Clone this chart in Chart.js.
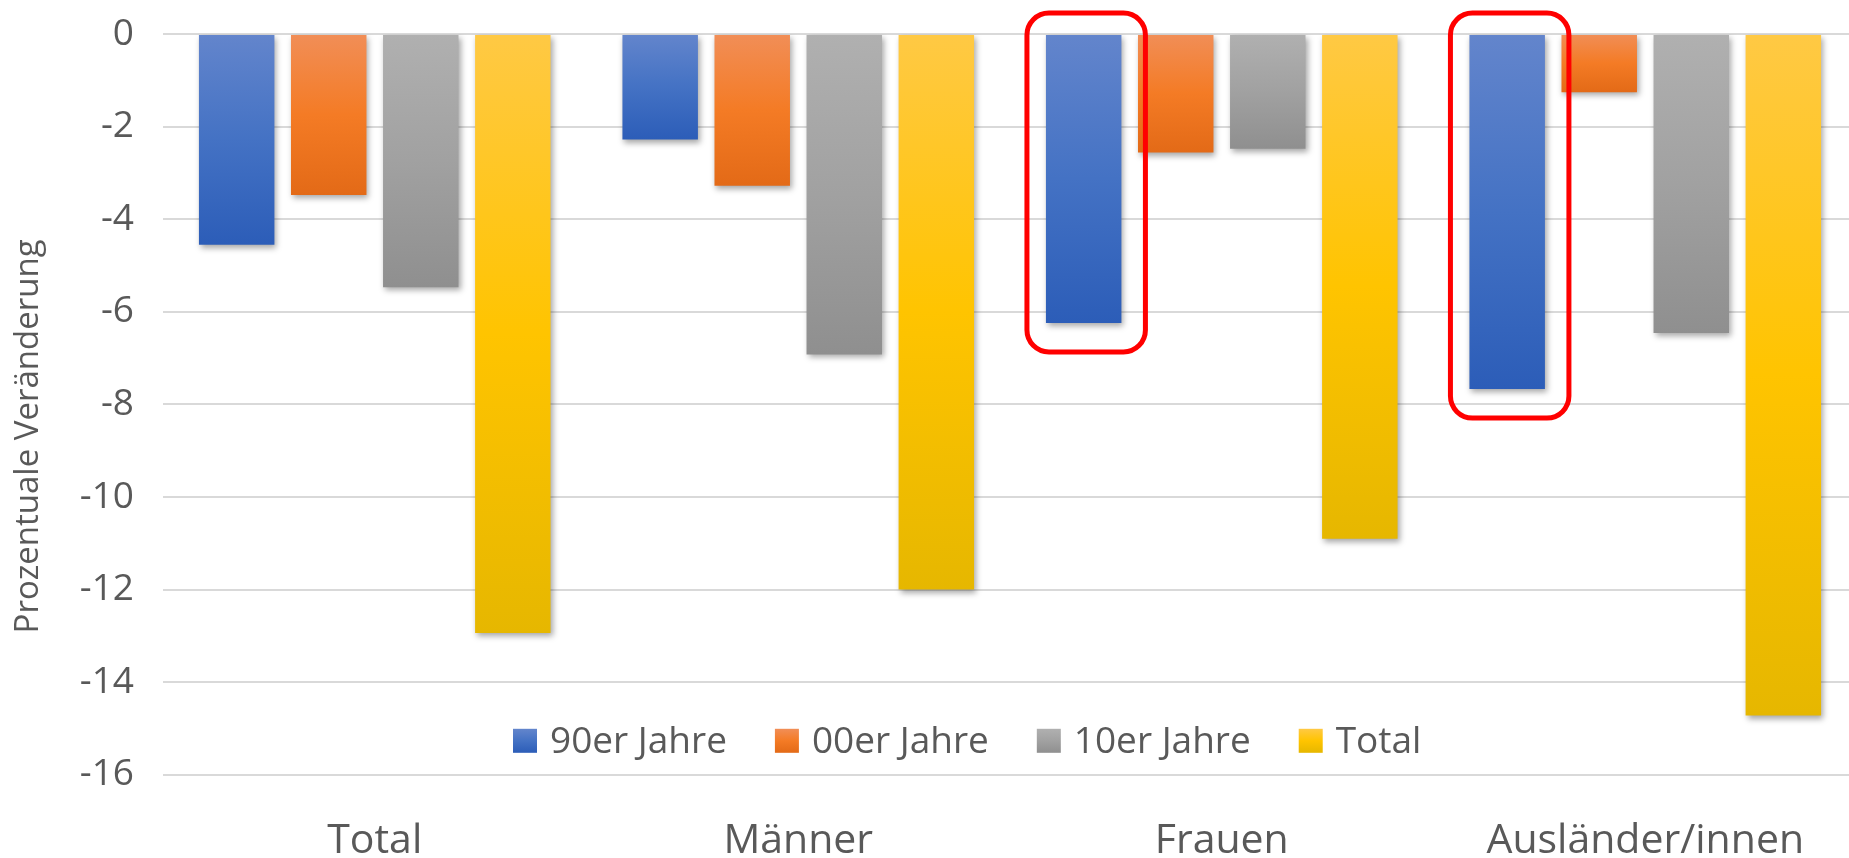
<!DOCTYPE html>
<html lang="de">
<head>
    <meta charset="UTF-8">
    <title>Prozentuale Veränderung</title>
    <style>
        html, body { margin: 0; padding: 0; background: #fff; overflow: hidden; }
        .chart-box { width: 1857px; height: 858px; position: relative; }
    </style>
    <script src="https://cdn.jsdelivr.net/npm/chart.js@4.4.1/dist/chart.umd.min.js"></script>
</head>
<body>
    <div class="chart-box"><canvas id="grafica"></canvas></div>
    <script>
        // data
        const labelsBar = ['Total', 'Männer', 'Frauen', 'Ausländer/innen'];
        const seriesNames = ['90er Jahre', '00er Jahre', '10er Jahre', 'Total'];
        const data90er = [-4.55, -2.28, -6.24, -7.67];
        const data00er = [-3.48, -3.28, -2.56, -1.26];
        const data10er = [-5.47, -6.92, -2.48, -6.46];
        const dataTotal = [-12.94, -12.0, -10.9, -14.72];
        const yTicks = [0, -2, -4, -6, -8, -10, -12, -14, -16];
        const yTitle = 'Prozentuale Veränderung';
        const highlighted = [2, 3]; // 90er bars boxed in red

        // gradient stops per series (top, middle, bottom)
        const gradients = [
            ['#6385CC', '#4472C4', '#2C5DB8'],
            ['#F18E57', '#F47B25', '#E36A17'],
            ['#B0B0B0', '#A1A1A1', '#8F8F8F'],
            ['#FFC944', '#FFC400', '#E6B700']
        ];
        const textColor = '#595959';
        const fontFamily = '"Open Sans", "Noto Sans", sans-serif';

        function fillGradient(ctx, y0, y1, stops) {
            const g = ctx.createLinearGradient(0, y0, 0, y1);
            g.addColorStop(0, stops[0]);
            g.addColorStop(0.5, stops[1]);
            g.addColorStop(1, stops[2]);
            return g;
        }

        function barColor(i) {
            return (context) => {
                const chart = context.chart;
                const y = chart.scales.y;
                if (context.type !== 'data' || !y) return gradients[i][1];
                const top = y.getPixelForValue(0);
                const bottom = y.getPixelForValue(context.raw);
                if (!isFinite(top) || !isFinite(bottom) || top === bottom) return gradients[i][1];
                return fillGradient(chart.ctx, top, bottom, gradients[i]);
            };
        }

        const seriesData = [data90er, data00er, data10er, dataTotal];

        const dataBar = {
            labels: labelsBar,
            datasets: seriesData.map((d, i) => ({
                label: seriesNames[i],
                data: d,
                backgroundColor: barColor(i),
                borderWidth: 0,
                categoryPercentage: 0.8694,
                barPercentage: 0.82
            }))
        };

        const shadowPlugin = {
            id: 'barShadow',
            beforeDatasetsDraw(chart) {
                const ctx = chart.ctx;
                ctx.save();
                ctx.shadowColor = 'rgba(0, 0, 0, 0.35)';
                ctx.shadowBlur = 6;
                ctx.shadowOffsetX = 2;
                ctx.shadowOffsetY = 3;
            },
            afterDatasetsDraw(chart) {
                chart.ctx.restore();
            }
        };

        const boxPlugin = {
            id: 'redBoxes',
            afterDatasetsDraw(chart) {
                const ctx = chart.ctx;
                const meta = chart.getDatasetMeta(0);
                ctx.save();
                ctx.strokeStyle = '#FF0000';
                ctx.lineWidth = 5;
                highlighted.forEach((idx) => {
                    const bar = meta.data[idx].getProps(['x', 'y', 'base', 'width'], true);
                    const left = bar.x - bar.width / 2 - 19;
                    const right = bar.x + bar.width / 2 + 24;
                    const top = Math.min(bar.y, bar.base) - 22;
                    const bottom = Math.max(bar.y, bar.base) + 29;
                    ctx.beginPath();
                    ctx.roundRect(left, top, right - left, bottom - top, 22);
                    ctx.stroke();
                });
                ctx.restore();
            }
        };

        // legend sits inside the plot, above the -16 line; axis title drawn a bit below centre
        const legendPlugin = {
            id: 'innerLegend',
            afterDraw(chart) {
                const ctx = chart.ctx;
                const area = chart.chartArea;
                const cy = area.bottom - 34;
                let x = area.left + 350;
                ctx.save();
                ctx.font = '37px ' + fontFamily;
                ctx.textBaseline = 'middle';
                chart.data.datasets.forEach((ds, i) => {
                    ctx.fillStyle = fillGradient(ctx, cy - 12, cy + 12, gradients[i]);
                    ctx.fillRect(x, cy - 12, 24, 24);
                    x += 24 + 13;
                    ctx.fillStyle = textColor;
                    ctx.fillText(ds.label, x, cy + 2);
                    x += ctx.measureText(ds.label).width + 48;
                });

                ctx.translate(29, (area.top + area.bottom) / 2 + 32);
                ctx.rotate(-Math.PI / 2);
                ctx.font = '33px ' + fontFamily;
                ctx.textAlign = 'center';
                ctx.fillText(yTitle, 0, 0);
                ctx.restore();
            }
        };

        const configBar = {
            type: 'bar',
            data: dataBar,
            options: {
                responsive: true,
                maintainAspectRatio: false,
                animation: false,
                layout: {
                    padding: { left: 9, right: 0, top: 34, bottom: -50 }
                },
                scales: {
                    x: {
                        grid: { display: false, drawTicks: false },
                        border: { display: false },
                        ticks: {
                            color: textColor,
                            padding: 42,
                            maxRotation: 0,
                            font: { family: fontFamily, size: 41 }
                        }
                    },
                    y: {
                        min: Math.min(...yTicks),
                        max: Math.max(...yTicks),
                        afterBuildTicks: (scale) => {
                            scale.ticks = yTicks.map((v) => ({ value: v }));
                        },
                        afterFit: (scale) => {
                            scale.width = 154;
                        },
                        grid: {
                            color: '#D9D9D9',
                            lineWidth: 2,
                            drawTicks: true,
                            tickLength: 29,
                            tickColor: 'rgba(0, 0, 0, 0)'
                        },
                        border: { display: false },
                        ticks: {
                            color: textColor,
                            padding: 0,
                            font: { family: fontFamily, size: 37 }
                        }
                    }
                },
                plugins: {
                    legend: { display: false },
                    tooltip: { enabled: false }
                }
            },
            plugins: [shadowPlugin, boxPlugin, legendPlugin]
        };

        new Chart(document.getElementById('grafica'), configBar);
    </script>
</body>
</html>
